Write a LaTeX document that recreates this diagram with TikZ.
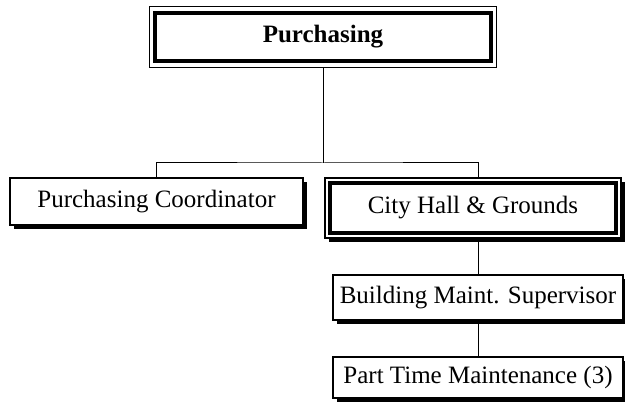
\documentclass[tikz,border=0pt]{standalone}
\usepackage{fontspec}
\setmainfont{Liberation Serif}
\usetikzlibrary{shadows}
\begin{document}
\begin{tikzpicture}[x=1pt,y=-1pt,
  every node/.style={font=\fontsize{25}{30}\selectfont, inner sep=0pt},
  orgbox/.style={draw, line width=1.5pt, fill=white, rectangle,
    drop shadow={shadow xshift=4pt, shadow yshift=-4pt, opacity=1, fill=black}},
  framebox/.style={draw, line width=1.5pt, fill=white, rectangle},
  innerframe/.style={line width=4pt},
  link/.style={line width=1pt}]
\useasboundingbox (0,0) rectangle (625,404);

% head of department, double frame
\node[framebox, minimum width=347pt, minimum height=61pt] (head) at (323,37) {\textbf{Purchasing}};
\draw[innerframe] ([shift={(6,7)}]head.north west) rectangle ([shift={(-6,-7)}]head.south east);

% second level
\node[orgbox, minimum width=293pt, minimum height=47pt] (coord) at (156.5,201.5) {Purchasing Coordinator};
\node[orgbox, minimum width=296pt, minimum height=60pt] (city) at (473,208) {City Hall \& Grounds};
\draw[innerframe] ([shift={(6,6)}]city.north west) rectangle ([shift={(-6,-6)}]city.south east);

% third and fourth level
\node[orgbox, minimum width=290pt, minimum height=45pt] (bldg) at (478,297.5) {Building Maint. Supervisor};
\node[orgbox, minimum width=290pt, minimum height=41pt] (part) at (478,377.5) {Part Time Maintenance (3)};

% connectors
\coordinate (bar) at (323,163);
\draw[link] (head.south) -- (bar);
\draw[link] (coord.north) |- (bar) -| (bldg.north |- city.north);
\draw[link] (bldg.north |- city.south) -- (bldg.north);
\draw[link] (bldg.south) -- (part.north);
\end{tikzpicture}
\end{document}
